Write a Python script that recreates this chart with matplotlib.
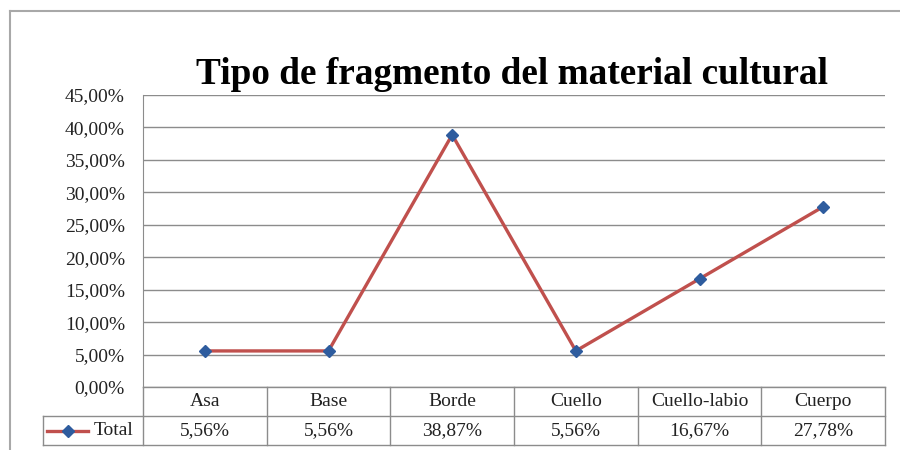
import matplotlib.pyplot as plt
from matplotlib.lines import Line2D
from matplotlib.ticker import FuncFormatter

categories = ['Asa', 'Base', 'Borde', 'Cuello', 'Cuello-labio', 'Cuerpo']
values = [5.56, 5.56, 38.87, 5.56, 16.67, 27.78]
series_name = 'Total'
title = 'Tipo de fragmento del material cultural'

plt.rcParams['font.family'] = ['Liberation Serif', 'DejaVu Serif']

line_color = '#C0504D'
marker_color = '#2E5C9E'
grid_color = '#8C8C8C'
txt_color = '#222222'
fs = 14

fig = plt.figure(figsize=(9, 4.5), dpi=100)
ax = fig.add_axes([143 / 900, 1 - 387 / 450, 742 / 900, 292 / 450])

x = list(range(len(categories)))
ax.plot(x, values, color=line_color, lw=2.4, marker='D', ms=6.5,
        mfc=marker_color, mec=marker_color, zorder=3, clip_on=False)

ax.set_xlim(-0.5, len(categories) - 0.5)
ax.set_ylim(0, 45)
ax.set_yticks(range(0, 46, 5))
ax.yaxis.set_major_formatter(FuncFormatter(lambda v, p: f'{v:.2f}%'.replace('.', ',')))
ax.tick_params(axis='y', length=0, pad=13, labelsize=fs, labelcolor=txt_color)
ax.set_xticks([])
ax.grid(axis='y', color=grid_color, lw=1)
ax.set_axisbelow(True)
for s in ['top', 'right', 'bottom']:
    ax.spines[s].set_visible(False)
ax.spines['left'].set_color(grid_color)

# data table below the plot
tr = ax.get_xaxis_transform()
h = 29 / 292
left_cell = -0.5 - 100 / 123.7
n = len(categories)
kw = dict(color=grid_color, lw=1, transform=tr, clip_on=False)
ax.plot([-0.5, n - 0.5], [0, 0], **kw)
ax.plot([left_cell, n - 0.5], [-h, -h], **kw)
ax.plot([left_cell, n - 0.5], [-2 * h, -2 * h], **kw)
for i in range(n + 1):
    ax.plot([i - 0.5, i - 0.5], [0, -2 * h], **kw)
ax.plot([left_cell, left_cell], [-h, -2 * h], **kw)

for i, (c, v) in enumerate(zip(categories, values)):
    ax.text(i, -h / 2, c, transform=tr, ha='center', va='center', fontsize=fs, color=txt_color)
    ax.text(i, -1.5 * h, f'{v:.2f}%'.replace('.', ','), transform=tr,
            ha='center', va='center', fontsize=fs, color=txt_color)

# legend key in the table
ax.plot([left_cell + 0.03, left_cell + 0.36], [-1.5 * h, -1.5 * h], color=line_color,
        lw=2.4, transform=tr, clip_on=False)
ax.plot([left_cell + 0.2], [-1.5 * h], marker='D', ms=6, color=marker_color,
        transform=tr, clip_on=False)
ax.text(left_cell + 0.41, -1.5 * h, series_name, transform=tr, ha='left', va='center',
        fontsize=fs, color=txt_color)

fig.text(0.569, 1 - 75 / 450, title, ha='center', va='center', fontsize=26.8,
         fontweight='bold')

# outer frame
fig.add_artist(Line2D([10 / 900, 1], [1 - 11 / 450] * 2, color='#A8A8A8', lw=1.5))
fig.add_artist(Line2D([10 / 900] * 2, [0, 1 - 11 / 450], color='#A8A8A8', lw=1.5))

fig.savefig('out.png', dpi=100)
